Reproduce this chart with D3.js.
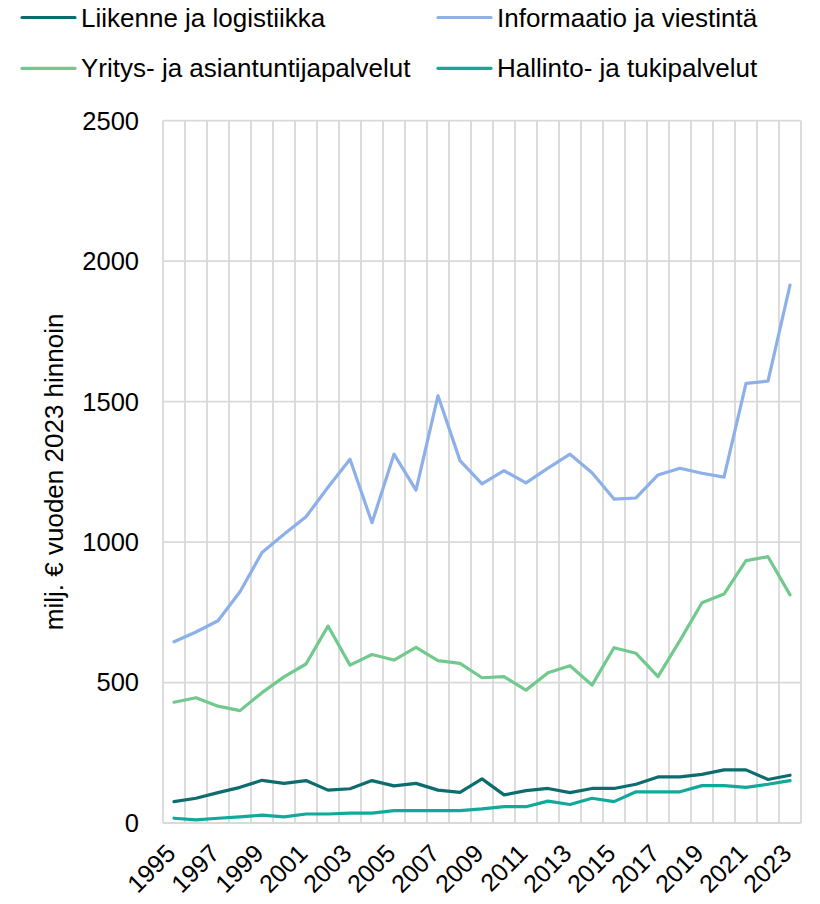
<!DOCTYPE html>
<html><head><meta charset="utf-8">
<script src="https://cdn.jsdelivr.net/npm/d3@7"></script>
<style>body{margin:0;background:#fff;} text{font-family:"Liberation Sans",Arial,sans-serif;fill:#000;}</style>
</head><body><svg id="c" width="820" height="904"></svg>
<script>
const years = d3.range(1995, 2024);
const seriesNames = ["Liikenne ja logistiikka","Informaatio ja viestintä","Yritys- ja asiantuntijapalvelut","Hallinto- ja tukipalvelut"];
const seriesColors = ["#0d6d6e","#8db0e8","#72c98e","#13a99a"];
const liikenne = [76,88,108,127,152,141,151,117,122,151,132,141,117,109,157,100,115,123,108,123,123,138,164,164,173,189,189,155,170];
const informaatio = [645,680,720,823,963,1028,1090,1195,1295,1069,1313,1185,1521,1290,1207,1254,1211,1263,1313,1247,1153,1157,1239,1263,1245,1231,1565,1573,1915];
const yritys = [430,446,416,400,464,520,566,701,562,600,580,625,578,568,517,521,473,535,560,491,624,604,521,650,784,815,934,948,812];
const hallinto = [17,11,17,22,28,22,32,32,35,35,44,44,44,44,50,58,58,78,66,88,76,111,111,111,133,133,127,138,151];
const yTicks = [0,500,1000,1500,2000,2500];
const xTickYears = years.filter(y => (y - 1995) % 2 === 0);
const yTitle = "milj. € vuoden 2023 hinnoin";

const svg = d3.select("#c");
const L = 163, R = 801, T = 120.7, B = 823;
const x = d3.scaleBand().domain(years).range([L, R]);
const y = d3.scaleLinear().domain([0, 2500]).range([B, T]);
const grid = "#d9d9d9";

const g = svg.append("g");
g.selectAll("line.h").data(yTicks).join("line")
  .attr("x1", L).attr("x2", R).attr("y1", d => y(d)).attr("y2", d => y(d))
  .attr("stroke", grid).attr("stroke-width", 1.8);
const edges = years.map(yr => x(yr)).concat([R]);
g.selectAll("line.v").data(edges).join("line")
  .attr("x1", d => d).attr("x2", d => d).attr("y1", T).attr("y2", B)
  .attr("stroke", grid).attr("stroke-width", 1.8);

svg.append("g").selectAll("text").data(yTicks).join("text")
  .attr("x", 139).attr("y", d => y(d)).attr("dy", "0.35em")
  .attr("text-anchor", "end").style("font-size", "25.5px").text(d => d);

svg.append("g").selectAll("text").data(xTickYears).join("text")
  .attr("transform", d => `translate(${x(d) + x.bandwidth()/2 + 3},${855}) rotate(-45)`)
  .attr("text-anchor", "end").style("font-size", "25px").text(d => d);

svg.append("text").attr("transform", `translate(63,${(T+B)/2}) rotate(-90)`)
  .attr("text-anchor", "middle").style("font-size", "26px").text(yTitle);

const allSeries = [liikenne, informaatio, yritys, hallinto];
const line = d3.line().x((d, i) => x(years[i]) + x.bandwidth()/2).y(d => y(d));
const drawOrder = [3, 0, 2, 1];
drawOrder.forEach(k => {
  svg.append("path").datum(allSeries[k]).attr("d", line)
    .attr("fill", "none").attr("stroke", seriesColors[k]).attr("stroke-width", 3.2)
    .attr("stroke-linejoin", "round").attr("stroke-linecap", "round");
});

const legPos = [[22, 17.5], [438, 17.5], [22, 68.3], [438, 68.3]];
seriesNames.forEach((n, k) => {
  const [lx, ly] = legPos[k];
  svg.append("line").attr("x1", lx).attr("x2", lx + 53).attr("y1", ly).attr("y2", ly)
    .attr("stroke", seriesColors[k]).attr("stroke-width", 3.2).attr("stroke-linecap", "round");
  svg.append("text").attr("x", lx + 59).attr("y", ly).attr("dy", "0.35em")
    .style("font-size", "26px").text(n);
});
</script></body></html>
